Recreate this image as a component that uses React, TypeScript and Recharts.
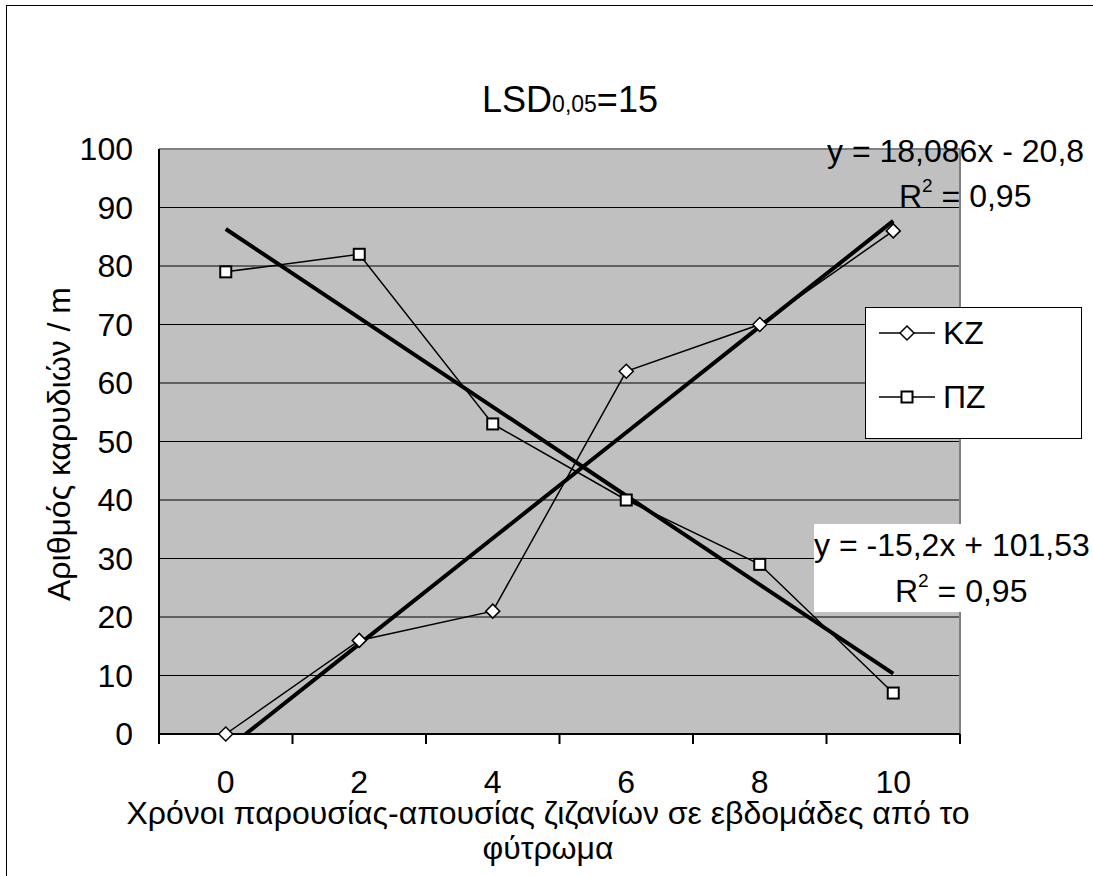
import React from 'react';
import { LineChart, Line, XAxis, YAxis, CartesianGrid, Legend, ReferenceLine } from 'recharts';

const FONT = '"Liberation Sans", Arial, sans-serif';

const weeks = [0, 2, 4, 6, 8, 10];
const kzValues = [0, 16, 21, 62, 70, 86];
const pzValues = [79, 82, 53, 40, 29, 7];
// linear trendlines as printed on the chart (Excel uses x = category index 1..6)
const kzFit = { slope: 18.086, intercept: -20.8 };
const pzFit = { slope: -15.2, intercept: 101.53 };
const yTicks = [0, 10, 20, 30, 40, 50, 60, 70, 80, 90, 100];
// tick marks sit between the categories, labels on them
const xTicks = [-1, 0, 1, 2, 3, 4, 5, 6, 7, 8, 9, 10, 11];

const data = weeks.map((w, i) => ({
  week: w,
  kz: kzValues[i],
  pz: pzValues[i],
  kzTrend: kzFit.slope * (i + 1) + kzFit.intercept,
  pzTrend: pzFit.slope * (i + 1) + pzFit.intercept,
}));

const Diamond = (props: any) => {
  const { cx, cy, index } = props;
  if (cx == null || cy == null) return null;
  return (
    <path
      key={`kz-${index}`}
      d={`M${cx} ${cy - 7}L${cx + 7} ${cy}L${cx} ${cy + 7}L${cx - 7} ${cy}Z`}
      fill="#fff"
      stroke="#000"
      strokeWidth={1.5}
    />
  );
};

const Square = (props: any) => {
  const { cx, cy, index } = props;
  if (cx == null || cy == null) return null;
  return <rect key={`pz-${index}`} x={cx - 5.5} y={cy - 5.5} width={11} height={11} fill="#fff" stroke="#000" strokeWidth={2} />;
};

const XTick = (props: any) => {
  const { x, y, payload } = props;
  const v = payload.value;
  if (weeks.includes(v)) {
    return (
      <text x={x} y={y + 59} textAnchor="middle" fontSize={32} fontFamily={FONT} fill="#000">
        {v}
      </text>
    );
  }
  return <line x1={x} x2={x} y1={y} y2={y + 10} stroke="#000" strokeWidth={2} />;
};

const LegendBox = () => (
  <div
    style={{
      width: 215,
      height: 130,
      background: '#fff',
      border: '1px solid #000',
      fontFamily: FONT,
      fontSize: 32,
      position: 'relative',
    }}
  >
    {[
      { name: 'ΚΖ', top: 25, shape: 'diamond' },
      { name: 'ΠΖ', top: 89, shape: 'square' },
    ].map((it) => (
      <div key={it.name} style={{ position: 'absolute', left: 13, top: it.top - 18, height: 36, display: 'flex', alignItems: 'center' }}>
        <svg width={56} height={36} style={{ display: 'block' }}>
          <line x1={0} x2={56} y1={18} y2={18} stroke="#000" strokeWidth={1.5} />
          {it.shape === 'diamond' ? (
            <path d="M28 11L35 18L28 25L21 18Z" fill="#fff" stroke="#000" strokeWidth={1.5} />
          ) : (
            <rect x={22.5} y={12.5} width={11} height={11} fill="#fff" stroke="#000" strokeWidth={2} />
          )}
        </svg>
        <span style={{ marginLeft: 8, lineHeight: '36px' }}>{it.name}</span>
      </div>
    ))}
  </div>
);

export default function App() {
  return (
    <div style={{ position: 'absolute', left: 0, top: 0, width: 1093, height: 876, overflow: 'hidden', background: '#fff' }}>
      <div style={{ position: 'absolute', left: 6, top: 5, width: 1200, height: 1000, border: '1px solid #000' }} />
      <div style={{ position: 'absolute', left: 0, top: 0 }}>
        <LineChart width={1093} height={876} data={data} margin={{ top: 149, right: 133, bottom: 82, left: 59 }}>
          <CartesianGrid vertical={false} fill="#C0C0C0" fillOpacity={1} stroke="#000" strokeWidth={1} />
          <XAxis
            dataKey="week"
            type="number"
            domain={[-1, 11]}
            ticks={xTicks}
            interval={0}
            height={60}
            tickSize={0}
            tickMargin={0}
            tickLine={false}
            axisLine={{ stroke: '#000', strokeWidth: 2 }}
            tick={<XTick />}
          />
          <YAxis
            domain={[0, 100]}
            ticks={yTicks}
            interval={0}
            width={100}
            tickSize={6}
            tickMargin={20}
            tickLine={false}
            axisLine={{ stroke: '#000', strokeWidth: 2 }}
            tick={{ fontSize: 32, fontFamily: FONT, fill: '#000' }}
          />
          <YAxis yAxisId="trend" hide domain={[0, 100]} allowDataOverflow />
          <ReferenceLine y={100} stroke="#808080" strokeWidth={2} />
          <ReferenceLine x={11} stroke="#808080" strokeWidth={2} />
          <Legend
            layout="vertical"
            align="center"
            verticalAlign="middle"
            content={() => <LegendBox />}
            wrapperStyle={{ left: 865, top: 307, width: 217, height: 132 }}
          />
          <Line type="linear" dataKey="kz" name="ΚΖ" stroke="#000" strokeWidth={1.5} dot={Diamond} isAnimationActive={false} />
          <Line type="linear" dataKey="pz" name="ΠΖ" stroke="#000" strokeWidth={1.5} dot={Square} isAnimationActive={false} />
          <Line yAxisId="trend" type="linear" dataKey="kzTrend" stroke="#000" strokeWidth={4} dot={false} legendType="none" isAnimationActive={false} />
          <Line yAxisId="trend" type="linear" dataKey="pzTrend" stroke="#000" strokeWidth={4} dot={false} legendType="none" isAnimationActive={false} />
        </LineChart>
      </div>
      <svg width={1093} height={876} style={{ position: 'absolute', left: 0, top: 0, pointerEvents: 'none' }} fontFamily={FONT} fill="#000">
        <text x={570} y={112} textAnchor="middle" fontSize={36}>
          LSD<tspan fontSize={23}>0,05</tspan>=15
        </text>
        <text transform="translate(70,444) rotate(-90)" textAnchor="middle" fontSize={32}>
          Αριθμός καρυδιών / m
        </text>
        <text x={548} y={824} textAnchor="middle" fontSize={32}>
          Χρόνοι παρουσίας-απουσίας ζιζανίων σε εβδομάδες από το
        </text>
        <text x={548} y={859} textAnchor="middle" fontSize={32}>
          φύτρωμα
        </text>
        <text x={827} y={162} fontSize={32}>y = 18,086x - 20,8</text>
        <text x={899} y={207} fontSize={32}>
          R<tspan fontSize={19} dy={-15}>2</tspan>
          <tspan dy={15}> = 0,95</tspan>
        </text>
        <rect x={814} y={524} width={279} height={88} fill="#fff" />
        <text x={814} y={556} fontSize={32}>y = -15,2x + 101,53</text>
        <text x={895} y={602} fontSize={32}>
          R<tspan fontSize={19} dy={-15}>2</tspan>
          <tspan dy={15}> = 0,95</tspan>
        </text>
      </svg>
    </div>
  );
}
